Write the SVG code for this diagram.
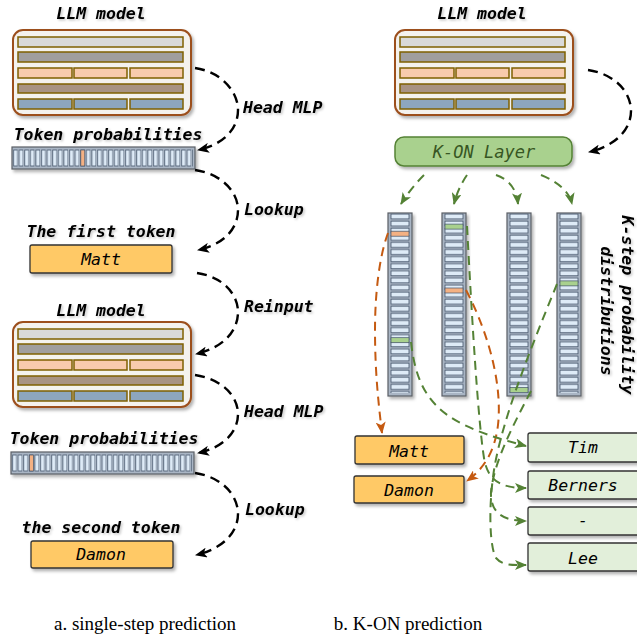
<svg xmlns="http://www.w3.org/2000/svg" xmlns:xlink="http://www.w3.org/1999/xlink" width="637" height="639" viewBox="0 0 637 639">
<style>
.hd{font-family:"DejaVu Sans Mono","Liberation Mono",monospace;font-weight:bold;font-style:italic;font-size:16.5px;fill:#000}
.lb{font-family:"DejaVu Sans Mono","Liberation Mono",monospace;font-style:italic;font-size:16.5px;fill:#000}
.kon{font-family:"DejaVu Sans Mono","Liberation Mono",monospace;font-style:italic;font-size:17px;fill:#375623}
.cap{font-family:"Liberation Serif","Times New Roman",serif;font-size:19px;fill:#000}
.c{text-anchor:middle}
.blk{fill:none;stroke:#000;stroke-width:2.4;stroke-dasharray:10 6}
.grn{fill:none;stroke:#548235;stroke-width:2;stroke-dasharray:9 6}
.org{fill:none;stroke:#C55A11;stroke-width:2;stroke-dasharray:9 6}
.llm{fill:#F4F2EE;stroke:#9C4F1E;stroke-width:2}
.ly{stroke:#7F6000;stroke-width:1.5}
.tok{fill:#FFC966;stroke:#333;stroke-width:1.3}
.gbx{fill:#E2EFDA;stroke:#333;stroke-width:1.3}
.barO{fill:#A9B5C4;stroke:#5A5F66;stroke-width:1.2}
.hiO{fill:#F4B183;stroke:#44546A;stroke-width:0.7}
.hiG{fill:#A9D18E;stroke:#44546A;stroke-width:0.7}
</style>
<defs>
<filter id="sh" x="-10%" y="-10%" width="130%" height="140%"><feDropShadow dx="2" dy="2.5" stdDeviation="1.5" flood-color="#000" flood-opacity="0.3"/></filter>
<filter id="tsh" x="-5%" y="-20%" width="115%" height="160%"><feDropShadow dx="1.5" dy="1.5" stdDeviation="1.2" flood-color="#000" flood-opacity="0.22"/></filter>
<marker id="ab" markerWidth="13" markerHeight="10" refX="11" refY="5" orient="auto" markerUnits="userSpaceOnUse"><path d="M0,0 L12,5 L0,10 L3,5 z" fill="#000"/></marker>
<marker id="ag" markerWidth="13" markerHeight="10" refX="11" refY="5" orient="auto" markerUnits="userSpaceOnUse"><path d="M0,0 L12,5 L0,10 L3,5 z" fill="#548235"/></marker>
<marker id="ao" markerWidth="13" markerHeight="10" refX="11" refY="5" orient="auto" markerUnits="userSpaceOnUse"><path d="M0,0 L12,5 L0,10 L3,5 z" fill="#C55A11"/></marker>
<pattern id="hc" x="0" y="0" width="5.6" height="22" patternUnits="userSpaceOnUse"><rect x="1.6" y="3" width="4" height="16" fill="#DEEBF7" stroke="#44546A" stroke-width="0.8"/></pattern>
<pattern id="vc" x="0" y="0" width="24" height="7.1" patternUnits="userSpaceOnUse"><rect x="3" y="1" width="18" height="5" fill="#DEEBF7" stroke="#44546A" stroke-width="0.8"/></pattern>
<g id="llmbox">
<rect class="llm" x="0" y="0" width="178" height="85" rx="10" filter="url(#sh)"/>
<rect class="ly" x="5" y="7" width="165" height="10" fill="#D9D9D9"/>
<rect class="ly" x="5" y="22" width="165" height="10" fill="#A09E9E"/>
<rect class="ly" x="5" y="38" width="54" height="10" fill="#F8CBAD"/>
<rect class="ly" x="61" y="38" width="53" height="10" fill="#F8CBAD"/>
<rect class="ly" x="117" y="38" width="53" height="10" fill="#F8CBAD"/>
<rect class="ly" x="5" y="54" width="165" height="9" fill="#A89383"/>
<rect class="ly" x="5" y="69" width="54" height="10" fill="#8DA6BE"/>
<rect class="ly" x="61" y="69" width="53" height="10" fill="#8DA6BE"/>
<rect class="ly" x="117" y="69" width="53" height="10" fill="#8DA6BE"/>
</g>
<g id="hbar">
<rect class="barO" x="0" y="0" width="183" height="22" filter="url(#sh)"/>
<rect x="0" y="0" width="181" height="22" fill="url(#hc)"/>
</g>
<g id="vbar">
<rect class="barO" x="0" y="0" width="24" height="183" filter="url(#sh)"/>
<rect x="0" y="0" width="24" height="180" fill="url(#vc)"/>
</g>
</defs>
<rect width="637" height="639" fill="#fff"/>

<!-- left column -->
<g id="llm1">
<text class="hd c" x="101" y="19" filter="url(#tsh)">LLM model</text>
<use href="#llmbox" x="13" y="30"/>
</g>
<g id="tokprob1">
<text class="hd c" x="108" y="140" filter="url(#tsh)">Token probabilities</text>
<use href="#hbar" x="12" y="147"/>
<rect class="hiO" x="80.8" y="150" width="4" height="16"/>
</g>
<g id="first">
<text class="hd c" x="101" y="237" filter="url(#tsh)">The first token</text>
<rect class="tok" x="30" y="245" width="142" height="28" rx="2" filter="url(#sh)"/>
<text class="lb c" x="101" y="265">Matt</text>
</g>
<g id="llm2">
<text class="hd c" x="101" y="316" filter="url(#tsh)">LLM model</text>
<use href="#llmbox" x="13" y="322"/>
</g>
<g id="tokprob2">
<text class="hd c" x="104" y="444" filter="url(#tsh)">Token probabilities</text>
<use href="#hbar" x="11" y="452"/>
<rect class="hiO" x="29.4" y="455" width="4" height="16"/>
</g>
<g id="second">
<text class="hd c" x="101" y="533" filter="url(#tsh)">the second token</text>
<rect class="tok" x="31" y="541" width="142" height="27" rx="2" filter="url(#sh)"/>
<text class="lb c" x="101" y="560">Damon</text>
</g>

<!-- right column -->
<g id="llm3">
<text class="hd c" x="482" y="19" filter="url(#tsh)">LLM model</text>
<use href="#llmbox" x="395" y="30"/>
</g>
<g id="konlayer">
<rect x="395" y="137" width="177" height="29" rx="9" fill="#A9D18E" stroke="#548235" stroke-width="1.5" filter="url(#sh)"/>
<text class="kon c" x="484" y="158">K-ON Layer</text>
</g>
<g id="bar1">
<use href="#vbar" x="388" y="213"/>
<rect class="hiO" x="391" y="231.2" width="18" height="5"/>
<rect class="hiG" x="391" y="337.7" width="18" height="5"/>
</g>
<g id="bar2">
<use href="#vbar" x="442" y="213"/>
<rect class="hiG" x="445" y="224.1" width="18" height="5"/>
<rect class="hiO" x="445" y="288" width="18" height="5"/>
</g>
<g id="bar3">
<use href="#vbar" x="507" y="213"/>
<rect class="hiG" x="510" y="387.4" width="18" height="5"/>
</g>
<g id="bar4">
<use href="#vbar" x="557" y="213"/>
<rect class="hiG" x="560" y="280.9" width="18" height="5"/>
</g>
<g id="kstep-label" filter="url(#tsh)">
<text class="hd c" transform="translate(622,305) rotate(90)">K-step probability</text>
<text class="hd c" transform="translate(601,311) rotate(90)">distributions</text>
</g>
<g id="matt">
<rect class="tok" x="355" y="436" width="109" height="28" rx="2" filter="url(#sh)"/>
<text class="lb c" x="409" y="457">Matt</text>
</g>
<g id="damon">
<rect class="tok" x="354" y="476" width="110" height="27" rx="2" filter="url(#sh)"/>
<text class="lb c" x="409" y="496">Damon</text>
</g>
<g id="tim">
<rect class="gbx" x="528" y="433" width="115" height="29" rx="2" filter="url(#sh)"/>
<text class="lb c" x="583" y="453">Tim</text>
</g>
<g id="berners">
<rect class="gbx" x="528" y="471" width="115" height="28" rx="2" filter="url(#sh)"/>
<text class="lb c" x="583" y="491">Berners</text>
</g>
<g id="dash">
<rect class="gbx" x="528" y="507" width="115" height="28" rx="2" filter="url(#sh)"/>
<text class="lb c" x="583" y="526">-</text>
</g>
<g id="lee">
<rect class="gbx" x="528" y="543" width="115" height="28" rx="2" filter="url(#sh)"/>
<text class="lb c" x="583" y="564">Lee</text>
</g>

<g id="connectors">
<path class="blk" d="M195,68 C222,72 238,92 238,110 C238,130 222,145 198,150" marker-end="url(#ab)"/>
<path class="blk" d="M195,170 C222,174 238,192 238,210 C238,230 222,245 198,250" marker-end="url(#ab)"/>
<path class="blk" d="M197,273 C224,277 238,295 238,312 C238,332 222,348 196,354" marker-end="url(#ab)"/>
<path class="blk" d="M195,375 C222,379 238,396 238,414 C238,433 222,448 198,453" marker-end="url(#ab)"/>
<path class="blk" d="M195,473 C222,477 238,495 238,514 C238,533 222,549 196,555" marker-end="url(#ab)"/>
<path class="blk" d="M588,70 C615,74 631,92 631,111 C631,130 615,146 589,152" marker-end="url(#ab)"/>
<text class="hd" x="243" y="113" filter="url(#tsh)">Head MLP</text>
<text class="hd" x="244" y="215" filter="url(#tsh)">Lookup</text>
<text class="hd" x="244" y="312" filter="url(#tsh)">Reinput</text>
<text class="hd" x="244" y="417" filter="url(#tsh)">Head MLP</text>
<text class="hd" x="245" y="515" filter="url(#tsh)">Lookup</text>
<path class="grn" d="M424,175 Q411,188 401,204" marker-end="url(#ag)"/>
<path class="grn" d="M467,175 Q458,188 454,204" marker-end="url(#ag)"/>
<path class="grn" d="M496,175 Q516,182 518,204" marker-end="url(#ag)"/>
<path class="grn" d="M541,175 Q568,186 572,204" marker-end="url(#ag)"/>
<path class="org" d="M388,233 C378,260 375,300 375,330 C375,370 378,400 382,433" marker-end="url(#ao)"/>
<path class="org" d="M466,290 C492,340 502,390 498,425 C495,450 485,468 467,481" marker-end="url(#ao)"/>
<path class="grn" d="M411,342 C418,405 445,425 526,446" marker-end="url(#ag)"/>
<path class="grn" d="M467,226 C472,320 478,420 484,458 C488,482 502,488 526,488" marker-end="url(#ag)"/>
<path class="grn" d="M531,391 C516,420 494,460 491,492 C490,514 505,521 526,521" marker-end="url(#ag)"/>
<path class="grn" d="M557,284 C530,350 502,420 494,470 C488,510 490,548 496,558 C503,566 512,565 526,565" marker-end="url(#ag)"/>
</g>

<g id="captions">
<text class="cap c" x="145" y="630">a. single-step prediction</text>
<text class="cap c" x="408" y="630">b. K-ON prediction</text>
</g>
</svg>
